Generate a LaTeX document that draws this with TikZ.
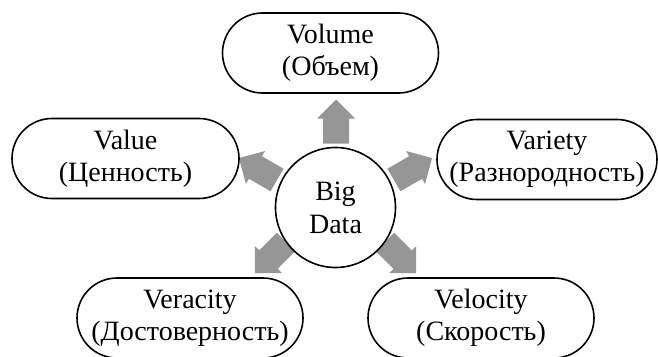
\documentclass[tikz,border=0pt]{standalone}
\usepackage{fontspec}
\setmainfont{Liberation Serif}
\definecolor{arrowgray}{RGB}{150,150,150}
\begin{document}
\begin{tikzpicture}[x=1pt,y=1pt,
  term/.style={draw, line width=1.6pt, rounded corners=40pt, minimum height=80pt,
    align=center, inner sep=0pt, font=\fontsize{28}{32}\selectfont},
  hub/.style={draw, line width=1.6pt, fill=white, circle, minimum size=120pt,
    align=center, inner sep=0pt, font=\fontsize{28}{33}\selectfont},
  bigarrow/.pic={
    \fill[arrowgray] (-22,-13) -- (3,-13) -- (3,-19) -- (22,0) -- (3,19)
      -- (3,13) -- (-22,13) -- cycle;
  }]
\useasboundingbox (0,0) rectangle (658,-356);

% block arrows radiating from the centre
\pic[rotate=90]  at (336,-121.5)   {bigarrow};
\pic[rotate=150] at (258,-169)     {bigarrow};
\pic[rotate=30]  at (413,-169)     {bigarrow};
\pic[rotate=225] at (270.5,-257.5) {bigarrow};
\pic[rotate=315] at (400.5,-257.5) {bigarrow};

% central circle
\node[hub] (hub) at (335.5,-207.5) {Big\\Data};

% the five V's
\node[term, minimum width=216pt] (vol)  at (330.5,-53)  {Volume\\(Объем)};
\node[term, minimum width=227pt] (val)  at (125.5,-158.5) {Value\\(Ценность)};
\node[term, minimum width=220pt] (var)  at (547,-159.5) {Variety\\(Разнородность)};
\node[term, minimum width=226pt] (ver)  at (190,-318) {Veracity\\(Достоверность)};
\node[term, minimum width=226pt] (velo) at (481,-318) {Velocity\\(Скорость)};
\end{tikzpicture}
\end{document}
